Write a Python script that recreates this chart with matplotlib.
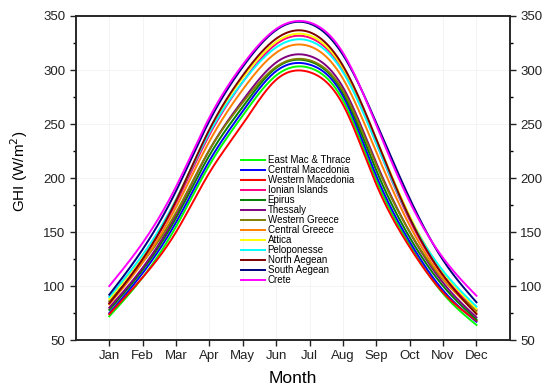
import numpy as np
import matplotlib.pyplot as plt
from matplotlib.ticker import MultipleLocator

plt.rcParams['font.family'] = ['Liberation Sans', 'DejaVu Sans']

months = ['Jan', 'Feb', 'Mar', 'Apr', 'May', 'Jun', 'Jul', 'Aug', 'Sep', 'Oct', 'Nov', 'Dec']

# monthly mean GHI (W/m2) per region
east_mac_thrace = [72, 108, 155, 212, 258, 295, 302, 272, 198, 138, 93, 64]
central_macedonia = [75, 112, 159, 216, 262, 299, 305, 276, 202, 141, 96, 67]
western_macedonia = [74, 108, 150, 205, 250, 291, 298, 268, 194, 136, 94, 68]
ionian_islands = [84, 125, 177, 240, 289, 324, 330, 300, 232, 161, 110, 78]
epirus = [78, 115, 163, 221, 266, 302, 308, 279, 207, 145, 100, 69]
thessaly = [80, 117, 166, 226, 272, 307, 313, 284, 214, 150, 103, 71]
western_greece = [86, 122, 168, 226, 270, 303, 309, 281, 212, 150, 106, 77]
central_greece = [83, 122, 173, 234, 282, 316, 322, 292, 224, 156, 107, 75]
attica = [88, 128, 180, 244, 293, 326, 332, 302, 236, 165, 113, 79]
peloponnese = [90, 129, 180, 242, 289, 321, 327, 298, 232, 163, 114, 81]
north_aegean = [84, 125, 179, 245, 295, 329, 335, 304, 236, 163, 110, 74]
south_aegean = [92, 134, 188, 253, 303, 337, 343, 314, 251, 181, 124, 85]
crete = [100, 140, 192, 256, 305, 338, 344, 316, 249, 178, 126, 91]

regions = ['East Mac & Thrace', 'Central Macedonia', 'Western Macedonia', 'Ionian Islands',
           'Epirus', 'Thessaly', 'Western Greece', 'Central Greece', 'Attica',
           'Peloponesse', 'North Aegean', 'South Aegean', 'Crete']
series = [east_mac_thrace, central_macedonia, western_macedonia, ionian_islands,
          epirus, thessaly, western_greece, central_greece, attica,
          peloponnese, north_aegean, south_aegean, crete]
colors = ['#00ff00', '#0000ff', '#ff0000', '#ff0080', '#008000', '#800080', '#808000',
          '#ff8000', '#ffff00', '#00ffff', '#800000', '#000080', '#ff00ff']


def spline(x, y, xs):
    # natural cubic spline through the monthly points (for drawing only)
    x = np.asarray(x, float)
    y = np.asarray(y, float)
    n = len(x)
    h = np.diff(x)
    A = np.zeros((n, n))
    b = np.zeros(n)
    A[0, 0] = A[-1, -1] = 1
    for i in range(1, n - 1):
        A[i, i - 1] = h[i - 1]
        A[i, i] = 2 * (h[i - 1] + h[i])
        A[i, i + 1] = h[i]
        b[i] = 6 * ((y[i + 1] - y[i]) / h[i] - (y[i] - y[i - 1]) / h[i - 1])
    M = np.linalg.solve(A, b)
    k = np.clip(np.searchsorted(x, xs) - 1, 0, n - 2)
    t0 = x[k + 1] - xs
    t1 = xs - x[k]
    hk = h[k]
    return (M[k] * t0 ** 3 + M[k + 1] * t1 ** 3) / (6 * hk) \
        + (y[k] / hk - M[k] * hk / 6) * t0 + (y[k + 1] / hk - M[k + 1] * hk / 6) * t1


x = np.arange(1, 13)
xs = np.linspace(1, 12, 300)

fig = plt.figure(figsize=(5.5, 3.9), dpi=100)
ax = fig.add_axes([0.138, 0.128, 0.789, 0.831])

for name, vals, c in zip(regions, series, colors):
    ax.plot(xs, spline(x, vals, xs), color=c, lw=1.4, label=name)

ax.set_xlim(0, 13)
ax.set_ylim(50, 350)
ax.set_xticks(x)
ax.set_xticklabels(months)
ax.yaxis.set_major_locator(MultipleLocator(50))
ax.yaxis.set_minor_locator(MultipleLocator(25))
ax.grid(True, color='#f2f2f2', lw=0.6)
ax.set_axisbelow(True)
ax.tick_params(axis='both', which='major', direction='out', length=4, width=1, labelsize=9.5, colors='#222222')
ax.tick_params(axis='y', which='minor', direction='out', length=2.5, width=1)
for s in ax.spines.values():
    s.set_linewidth(1.1)
    s.set_color('#222222')

ax2 = ax.twinx()
ax2.set_ylim(50, 350)
ax2.yaxis.set_major_locator(MultipleLocator(50))
ax2.yaxis.set_minor_locator(MultipleLocator(25))
ax2.tick_params(axis='y', which='major', direction='out', length=4, width=1, labelsize=9.5, colors='#222222')
ax2.tick_params(axis='y', which='minor', direction='out', length=2.5, width=1)
for s in ax2.spines.values():
    s.set_linewidth(1.1)
    s.set_color('#222222')

ax.set_xlabel('Month', fontsize=12.5, labelpad=6)
ax.set_ylabel('GHI (W/m$^2$)', fontsize=11)
ax.yaxis.set_label_coords(-0.105, 0.52)

ax.legend(loc='upper left', bbox_to_anchor=(0.37, 0.585), frameon=False, fontsize=7,
          handlelength=2.4, handletextpad=0.3, labelspacing=0.0, borderpad=0)

fig.savefig('out.png', dpi=100)
